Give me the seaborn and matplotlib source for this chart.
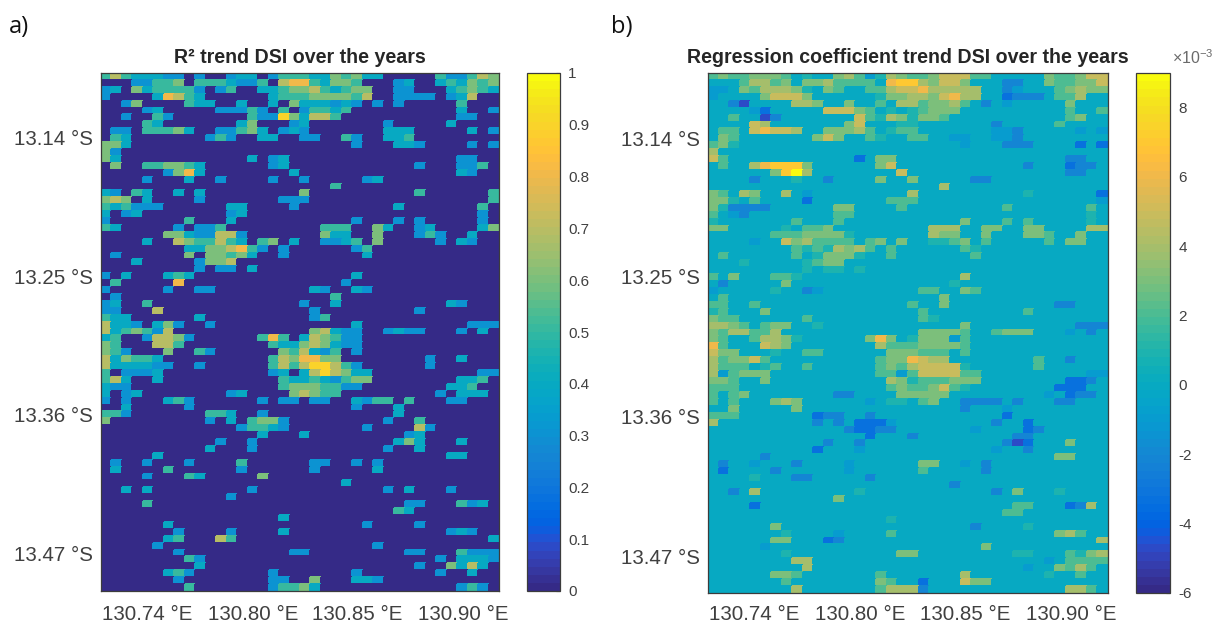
import numpy as np
import matplotlib
matplotlib.use("Agg")
import matplotlib.pyplot as plt
from matplotlib.colors import ListedColormap
import seaborn as sns

TITLE_A = "R² trend DSI over the years"
TITLE_B = "Regression coefficient trend DSI over the years"
LON_LABELS = ["130.74 °E", "130.80 °E", "130.85 °E", "130.90 °E"]
LAT_LABELS = ["13.14 °S", "13.25 °S", "13.36 °S", "13.47 °S"]
CBAR_A_TICKS = [0, .1, .2, .3, .4, .5, .6, .7, .8, .9, 1]
CBAR_A_LABELS = ["0", "0.1", "0.2", "0.3", "0.4", "0.5", "0.6", "0.7", "0.8", "0.9", "1"]
CBAR_B_TICKS = [-6, -4, -2, 0, 2, 4, 6, 8]

# R² per cell in tenths ('.' = 0); 38 columns, 75 rows
R2_ROWS = [
"57544433.3 ..344.3555 4465644... ..533576",
"...33556.5 554335.788 54665...34 ..454656",
"34.6455553 .35..44566 754566..33 ...45654",
"3....48754 ......4555 666657..33 33.347..",
"..36....54 4..4..4.64 44343.3.3. ....5...",
"....34.... .33353.5.3 5545...... ....4..3",
"..3..53... ....533964 775....... ....33..",
"....54.... ...46...34 .......3.. ...4....",
".33.55564. .33564.343 .......444 .....4.3",
".54....... 353..44..3 3..53..445 ........",
"664....... .......... ....3...44 3....3.3",
"63........ .......... .......... ........",
"64........ ....4.34.. .......... ....33..",
".6..556654 ......34.. .......... 3...335.",
"......3684 ........4. .......... ....43..",
"....3...4. .3....3..3 .....34... ........",
".......... .......... ..5....... ........",
"43.54..4.4 .........6 .......... 5......5",
"676.4....3 .......333 .......... .......5",
"545333.... ..44....3. ........4. ......5.",
"4.34...... ..34...... .......... ......3.",
"3.......5. ..4....... ....3...3. 3.....3.",
"54.....3.3 35........ .555..64.. 34....46",
"......6643 3773...... .644..6... 353..4..",
"....4..765 5754.56.4. .3345.6... ..3.43..",
"........44 667853.3.. ....35.... ........",
".3......6. 66564..3.. .....4.... ........",
"...4.....3 667....... .......... ........",
".........3 .33.4..... .......... ........",
"3.4...454. .......... ....4..... ........",
".5.....8.. .......... ...3...... ........",
"3.....3..3 3......... 43..43.... ........",
".3........ .......... ..5....... ........",
"34..5..... .........3 ..4....... ...43...",
"33...7.... .......... 3......... 3.......",
"544......4 .......... 35........ ........",
"7443.463.. 3......... ....4..... .....333",
"7456537... .......... 67433..343 3...3.4.",
"45..37763. .....585.4 76533..... ........",
"65...775.. ......5446 76433..... ........",
"653...6..5 3......657 435.3..... ........",
"746554.... ......5768 866....... .3..4...",
"7444433..3 ......5757 99753..... .3......",
"5.3334.... ......34.4 797644.... ......33",
"574..4.... .......544 543566.... ....445.",
"433....... .......566 65533..... ...445..",
"4.34...... ..34....67 655....... ..3.444.",
"3.3...453. .....3.33. 33..4355.5 ...33...",
"..4.....3. .......... ....3...4. ........",
"553....... 554..3.... ........4. ........",
"6......... 3.4.5663.. .......3.. 5.......",
".......... ...35543.. .....3.... 73......",
".......... .....4...4 .........3 4.......",
".......... .3..3..... ........46 4...4...",
".......... 4...3..... .......3.. 4.......",
".....4.... .......... .......... ...44...",
".3..3...3. ...5...... 33..3.3... ........",
".4....5... ...3...... 3.....4... ........",
"....3...54 .....6.... .......... ........",
".......... .......... ...4...... ........",
"..4.4..... ....3..... .......3.4 ...3....",
".......... ..3....... .......... ........",
"....5..... .......... .........3 3...534.",
".......... .......... ........54 ........",
".......... .......4.. .......... ........",
"......4... .......... .....3.... 3.......",
".......3.. ..3....4.. .......... ...343..",
"......45.. .75....... .......... .......4",
".....3.... .......... ......3... ........",
".......3.. ........33 .........3 3...5333",
"........53 .......... .......... ..3.4443",
".........4 .......... .......... 3..6474.",
"......453. ......3... ....3..... ..3..4..",
".......3.. ......33.. 6...443... ........",
"........5. ......3556 4......... ....353.",
]

# Regression coefficient per cell in 1e-3 units: digits positive, a-d = -1..-4
COEF_ROWS = [
"23223332.1 ..342a1432 2355522... ..322355",
"...24423.3 342222.677 43553...bb ..322335",
"aa.3244431 .32..22455 644444..ba ...23433",
"a....35553 ......1334 435644..cb bb.224..",
"..bd....44 3..3..2.44 23342.b.a. ....3...",
"....ac.... .55532.1.1 2333...... ....2..2",
"..2..db... ....521431 332....... ....23..",
"....54.... ...35...11 .......b.. ...2....",
".22.56554. .33342.122 .......aab .....a.a",
".32....... 353..21..2 2..aa..aab ........",
"231....... .......... ....a...bb b....c.c",
"4......... .......... .......... ........",
"52........ ....c.33.. .......... ....bb..",
".2..467773 ......35.. .......... b...cbb.",
"......3794 ........5. .......... ....bb..",
"....b...1. .b....3..3 .....bb... ........",
".......... .......... ..4....... ........",
"32.43..4.a .........4 .......... 1......c",
"331.2....c .......222 .......... .......a",
"31bbbb.... ..33....2. ........2. ......2.",
"2.ab...... ..22...... .......... ......1.",
"1.......2. ..2....... ....3...2. 2.....1.",
"33.....1.2 23........ .444..33.. 33....44",
"......2223 3331...... .433..3... 332..3..",
"....a..534 2222.23.3. .1123.2... ..2.33..",
"........21 214342.2.. ....21.... ........",
".2......2. 13331..2.. .....2.... ........",
"...1.....1 233....... .......... ........",
".........1 .11.1..... .......... ........",
"2.3...221. .......... ....4..... ........",
".b.....3.. .......... ...1...... ........",
"a.....1..b a......... 22..32.... ........",
".2........ .......... ..3....... ........",
"22..2..... .........2 ..3....... ...bb...",
"12...3.... .......... 2......... 2.......",
"322......2 .......... 21........ ........",
"4432.233.. 1......... ....3..... .....bbb",
"3244224... .......... 33332..233 3...a.b.",
"32..24431. .....363.1 333a2..... ........",
"62...543.. ......4222 33332..... ........",
"533...1..2 2......333 222.2..... ........",
"423352.... ......2336 544....... .2..b...",
"4222.12..2 ......2324 55551..... .2......",
"4a2333.... ......22a2 555522.... ......aa",
"332..3.... .......431 222333.... ....ccb.",
"222....... .......232 23521..... ...ccc..",
"2.23...... ..bb....33 333....... ..a.cbb.",
"2.2...343. .....a.11. 23..bbbb.b ...bb...",
"..3.....3. .......... ....b...a. ........",
"222....... cbb..b.... ........c. ........",
"4......... b.b.ccca.. .......b.. c.......",
".......... ...bccbb.. .....a.... cb......",
".......... .....c...b .........b b.......",
".......... .b..b..... ........bd c...3...",
".......... c...a..... .......a.. b.......",
".....b.... .......... .......... ...33...",
".b..a...b. ...a...... 33..a.b... ........",
".c....b... ...a...... 2.....b... ........",
"....1...bb .....b.... .......... ........",
".......... .......... ...b...... ........",
"..b.4..... ....1..... .......b.3 ...1....",
".......... ..3....... .......... ........",
"....c..... .......... .........2 2...cb4.",
".......... .......... ........22 ........",
".......... .......1.. .......... ........",
"......3... .......... .....b.... 1.......",
".......1.. ..a....2.. .......... ...342..",
"......33.. .cb....... .......... .......4",
".....a.... .......... ......3... ........",
".......1.. ........33 .........1 1...2134",
"........44 .......... .......... ..a.2222",
".........4 .......... .......... a..3242.",
"......332. ......2... ....4..... ..1..2..",
".......2.. ......32.. c...533... ........",
"........4. ......2444 b......... ....442.",
]

PARULA = [
(0.2081,0.1663,0.5292),(0.2116,0.1898,0.5777),(0.2123,0.2138,0.6270),(0.2081,0.2386,0.6771),
(0.1959,0.2645,0.7279),(0.1707,0.2919,0.7792),(0.1253,0.3242,0.8303),(0.0591,0.3598,0.8683),
(0.0117,0.3875,0.8820),(0.0060,0.4086,0.8828),(0.0165,0.4266,0.8786),(0.0329,0.4430,0.8720),
(0.0498,0.4586,0.8641),(0.0629,0.4737,0.8554),(0.0723,0.4887,0.8467),(0.0779,0.5040,0.8384),
(0.0793,0.5200,0.8312),(0.0749,0.5375,0.8263),(0.0641,0.5570,0.8240),(0.0488,0.5772,0.8228),
(0.0343,0.5966,0.8199),(0.0265,0.6137,0.8135),(0.0239,0.6287,0.8038),(0.0231,0.6418,0.7913),
(0.0228,0.6535,0.7768),(0.0267,0.6642,0.7607),(0.0384,0.6743,0.7436),(0.0590,0.6838,0.7254),
(0.0843,0.6928,0.7062),(0.1133,0.7015,0.6859),(0.1453,0.7098,0.6646),(0.1801,0.7177,0.6424),
(0.2178,0.7250,0.6193),(0.2586,0.7317,0.5954),(0.3022,0.7376,0.5712),(0.3482,0.7424,0.5473),
(0.3953,0.7459,0.5244),(0.4420,0.7481,0.5033),(0.4871,0.7491,0.4840),(0.5300,0.7491,0.4661),
(0.5709,0.7485,0.4494),(0.6099,0.7473,0.4337),(0.6473,0.7456,0.4188),(0.6834,0.7435,0.4044),
(0.7184,0.7411,0.3905),(0.7525,0.7384,0.3768),(0.7858,0.7356,0.3633),(0.8185,0.7327,0.3498),
(0.8507,0.7299,0.3360),(0.8824,0.7274,0.3217),(0.9139,0.7258,0.3063),(0.9450,0.7261,0.2886),
(0.9739,0.7314,0.2666),(0.9938,0.7455,0.2403),(0.9990,0.7653,0.2164),(0.9955,0.7861,0.1967),
(0.9880,0.8066,0.1794),(0.9789,0.8271,0.1633),(0.9697,0.8481,0.1475),(0.9626,0.8705,0.1309),
(0.9589,0.8949,0.1132),(0.9598,0.9218,0.0948),(0.9661,0.9514,0.0755),(0.9763,0.9831,0.0538),
]
cmap = ListedColormap(PARULA, name="parula").resampled(256)

NEG = {"a": -1.0, "b": -2.2, "c": -3.2, "d": -4.6}

def decode(rows, scale):
    out = []
    for row in rows:
        cells = row.replace(" ", "")
        vals = []
        for ch in cells:
            if ch == ".":
                vals.append(0.0)
            elif ch in NEG:
                vals.append(NEG[ch])
            else:
                vals.append(int(ch) * scale)
        out.append(vals)
    return np.array(out, dtype=float)

r2 = decode(R2_ROWS, 0.1)
coef = decode(COEF_ROWS, 1.0)

sns.set_theme(style="white")
plt.rcParams["font.family"] = ["Liberation Sans", "DejaVu Sans"]
plt.rcParams["mathtext.default"] = "regular"

W, H = 1223, 624
fig = plt.figure(figsize=(W / 100, H / 100), dpi=100, facecolor="white")

def px_axes(left, top, right, bottom):
    return fig.add_axes([left / W, 1 - bottom / H, (right - left) / W, (bottom - top) / H])

GREY = "#404040"
EDGE = "#3c3c3c"

def panel(data, box, cbox, vmin, vmax, title, xt, yt, cticks, clabels, xpad):
    ax = px_axes(*box)
    cax = px_axes(*cbox)
    sns.heatmap(data, ax=ax, cbar_ax=cax, cmap=cmap, vmin=vmin, vmax=vmax,
                xticklabels=False, yticklabels=False, cbar_kws={"ticks": cticks})
    for c in ax.collections:
        c.set_edgecolor("face")
        c.set_linewidth(0.2)
    ax.set_xticks(xt)
    ax.set_xticklabels(LON_LABELS, rotation=0)
    ax.set_yticks(yt)
    ax.set_yticklabels(LAT_LABELS, rotation=0)
    ax.tick_params(axis="both", which="major", direction="in", length=3, width=0.8,
                   color="#222222", labelcolor=GREY, labelsize=14.8, top=True, right=True,
                   bottom=True, left=True, pad=6)
    ax.tick_params(axis="x", pad=xpad)
    for s in ax.spines.values():
        s.set_visible(True)
        s.set_color(EDGE)
        s.set_linewidth(0.9)
    ax.set_title(title, fontsize=14.1, fontweight="bold", color="#262626", pad=7)
    cb = ax.collections[0].colorbar
    cb.set_ticks(cticks)
    cb.set_ticklabels(clabels)
    cax.tick_params(axis="y", direction="in", length=3, width=0.8, color="#222222",
                    labelcolor=GREY, labelsize=11, right=True, left=False, pad=6)
    cb.outline.set_visible(True)
    cb.outline.set_edgecolor(EDGE)
    cb.outline.set_linewidth(0.9)
    return ax, cax

panel(r2, (101, 73, 499, 591), (527, 73, 560, 591), 0, 1, TITLE_A,
      [4.39, 14.5, 24.45, 34.6], [9.27, 29.4, 49.4, 69.5], CBAR_A_TICKS, CBAR_A_LABELS, 10)
panel(coef, (708, 73, 1108, 593), (1136, 73, 1170, 593), -6, 9, TITLE_B,
      [4.4, 14.45, 24.4, 34.5], [9.5, 29.4, 49.6, 69.8], CBAR_B_TICKS, [str(t) for t in CBAR_B_TICKS], 8.5)

fig.text(9 / W, 1 - 33 / H, "a)", fontsize=17, family="Open Sans", color="#111111")
fig.text(611 / W, 1 - 33 / H, "b)", fontsize=17, family="Open Sans", color="#111111")
fig.text(1172 / W, 1 - 64 / H, "×10$^{-3}$", fontsize=11.5, color="#6a6a6a")

fig.savefig("out.png", dpi=100)
